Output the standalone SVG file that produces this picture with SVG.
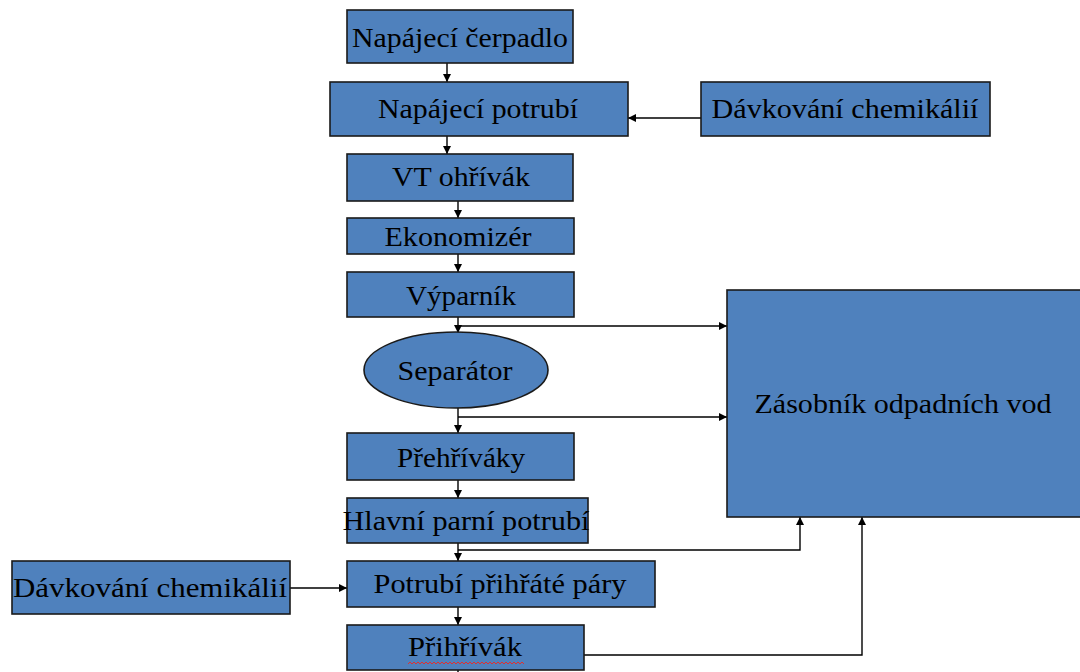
<svg xmlns="http://www.w3.org/2000/svg" width="1080" height="672" viewBox="0 0 1080 672">
<defs>
<marker id="ah" viewBox="0 0 10 10" refX="10" refY="5" markerWidth="9" markerHeight="8" markerUnits="userSpaceOnUse" orient="auto">
<path d="M0,0 L10,5 L0,10 Z" fill="#000"/>
</marker>
<style>
.box{fill:#4f81bd;stroke:#1a1a1a;stroke-width:1.6}
.t{font-family:"Liberation Serif","Times New Roman",serif;font-size:28px;fill:#000;text-anchor:middle}
.c{fill:none;stroke:#000;stroke-width:1.4}
</style>
</defs>
<rect width="1080" height="672" fill="#fff"/>
<g id="connectors">
<line class="c" x1="447" y1="63" x2="447" y2="82" marker-end="url(#ah)"/>
<line class="c" x1="447" y1="136" x2="447" y2="154" marker-end="url(#ah)"/>
<line class="c" x1="458" y1="201" x2="458" y2="218" marker-end="url(#ah)"/>
<line class="c" x1="458" y1="254" x2="458" y2="272" marker-end="url(#ah)"/>
<line class="c" x1="458" y1="317" x2="458" y2="333" marker-end="url(#ah)"/>
<line class="c" x1="458" y1="326" x2="727" y2="326" marker-end="url(#ah)"/>
<line class="c" x1="458" y1="408" x2="458" y2="433" marker-end="url(#ah)"/>
<line class="c" x1="458" y1="417" x2="727" y2="417" marker-end="url(#ah)"/>
<line class="c" x1="458" y1="480" x2="458" y2="498" marker-end="url(#ah)"/>
<line class="c" x1="458" y1="543" x2="458" y2="561" marker-end="url(#ah)"/>
<polyline class="c" points="458,550 800,550 800,517" marker-end="url(#ah)"/>
<line class="c" x1="290" y1="588" x2="347" y2="588" marker-end="url(#ah)"/>
<line class="c" x1="701" y1="118" x2="628" y2="118" marker-end="url(#ah)"/>
<line class="c" x1="458" y1="607" x2="458" y2="625" marker-end="url(#ah)"/>
<polyline class="c" points="584,655 862,655 862,517" marker-end="url(#ah)"/>
<line class="c" x1="458" y1="670" x2="458" y2="672"/>
</g>
<g id="n1"><rect class="box" x="347" y="10" width="226" height="53"/><text class="t" x="460" y="47" textLength="216" lengthAdjust="spacingAndGlyphs">Napájecí čerpadlo</text></g>
<g id="n2"><rect class="box" x="330" y="82" width="298" height="54"/><text class="t" x="478" y="118" textLength="200" lengthAdjust="spacingAndGlyphs">Napájecí potrubí</text></g>
<g id="n3"><rect class="box" x="701" y="82" width="289" height="54"/><text class="t" x="845" y="118" textLength="267" lengthAdjust="spacingAndGlyphs">Dávkování chemikálií</text></g>
<g id="n4"><rect class="box" x="347" y="154" width="226" height="47"/><text class="t" x="461" y="186" textLength="138" lengthAdjust="spacingAndGlyphs">VT ohřívák</text></g>
<g id="n5"><rect class="box" x="347" y="218" width="227" height="36"/><text class="t" x="458" y="246" textLength="147" lengthAdjust="spacingAndGlyphs">Ekonomizér</text></g>
<g id="n6"><rect class="box" x="347" y="272" width="227" height="45"/><text class="t" x="461" y="305" textLength="110" lengthAdjust="spacingAndGlyphs">Výparník</text></g>
<g id="n7"><ellipse class="box" cx="456" cy="370" rx="92" ry="38"/><text class="t" x="455" y="380" textLength="115" lengthAdjust="spacingAndGlyphs">Separátor</text></g>
<g id="n8"><rect class="box" x="727" y="290" width="360" height="227"/><text class="t" x="903" y="413" textLength="297" lengthAdjust="spacingAndGlyphs">Zásobník odpadních vod</text></g>
<g id="n9"><rect class="box" x="347" y="433" width="227" height="47"/><text class="t" x="461" y="467" textLength="128" lengthAdjust="spacingAndGlyphs">Přehříváky</text></g>
<g id="n10"><rect class="box" x="347" y="498" width="241" height="45"/><text class="t" x="466" y="530" textLength="247" lengthAdjust="spacingAndGlyphs">Hlavní parní potrubí</text></g>
<g id="n11"><rect class="box" x="12" y="561" width="278" height="53"/><text class="t" x="150" y="597" textLength="274" lengthAdjust="spacingAndGlyphs">Dávkování chemikálií</text></g>
<g id="n12"><rect class="box" x="347" y="561" width="308" height="46"/><text class="t" x="500" y="593" textLength="253" lengthAdjust="spacingAndGlyphs">Potrubí přihřáté páry</text></g>
<g id="n13"><rect class="box" x="347" y="625" width="237" height="45"/><text class="t" x="465" y="656" textLength="114" lengthAdjust="spacingAndGlyphs">Přihřívák</text>
<path d="M408,664 l2,-2 l2,2 l2,-2 l2,2 l2,-2 l2,2 l2,-2 l2,2 l2,-2 l2,2 l2,-2 l2,2 l2,-2 l2,2 l2,-2 l2,2 l2,-2 l2,2 l2,-2 l2,2 l2,-2 l2,2 l2,-2 l2,2 l2,-2 l2,2 l2,-2 l2,2 l2,-2 l2,2 l2,-2 l2,2 l2,-2 l2,2 l2,-2 l2,2 l2,-2 l2,2 l2,-2 l2,2 l2,-2 l2,2 l2,-2 l2,2 l2,-2 l2,2 l2,-2 l2,2 l2,-2 l2,2 l2,-2 l2,2 l2,-2 l2,2 l2,-2 l2,2 l2,-2 l2,2" fill="none" stroke="#e03030" stroke-width="1"/></g>
</svg>
